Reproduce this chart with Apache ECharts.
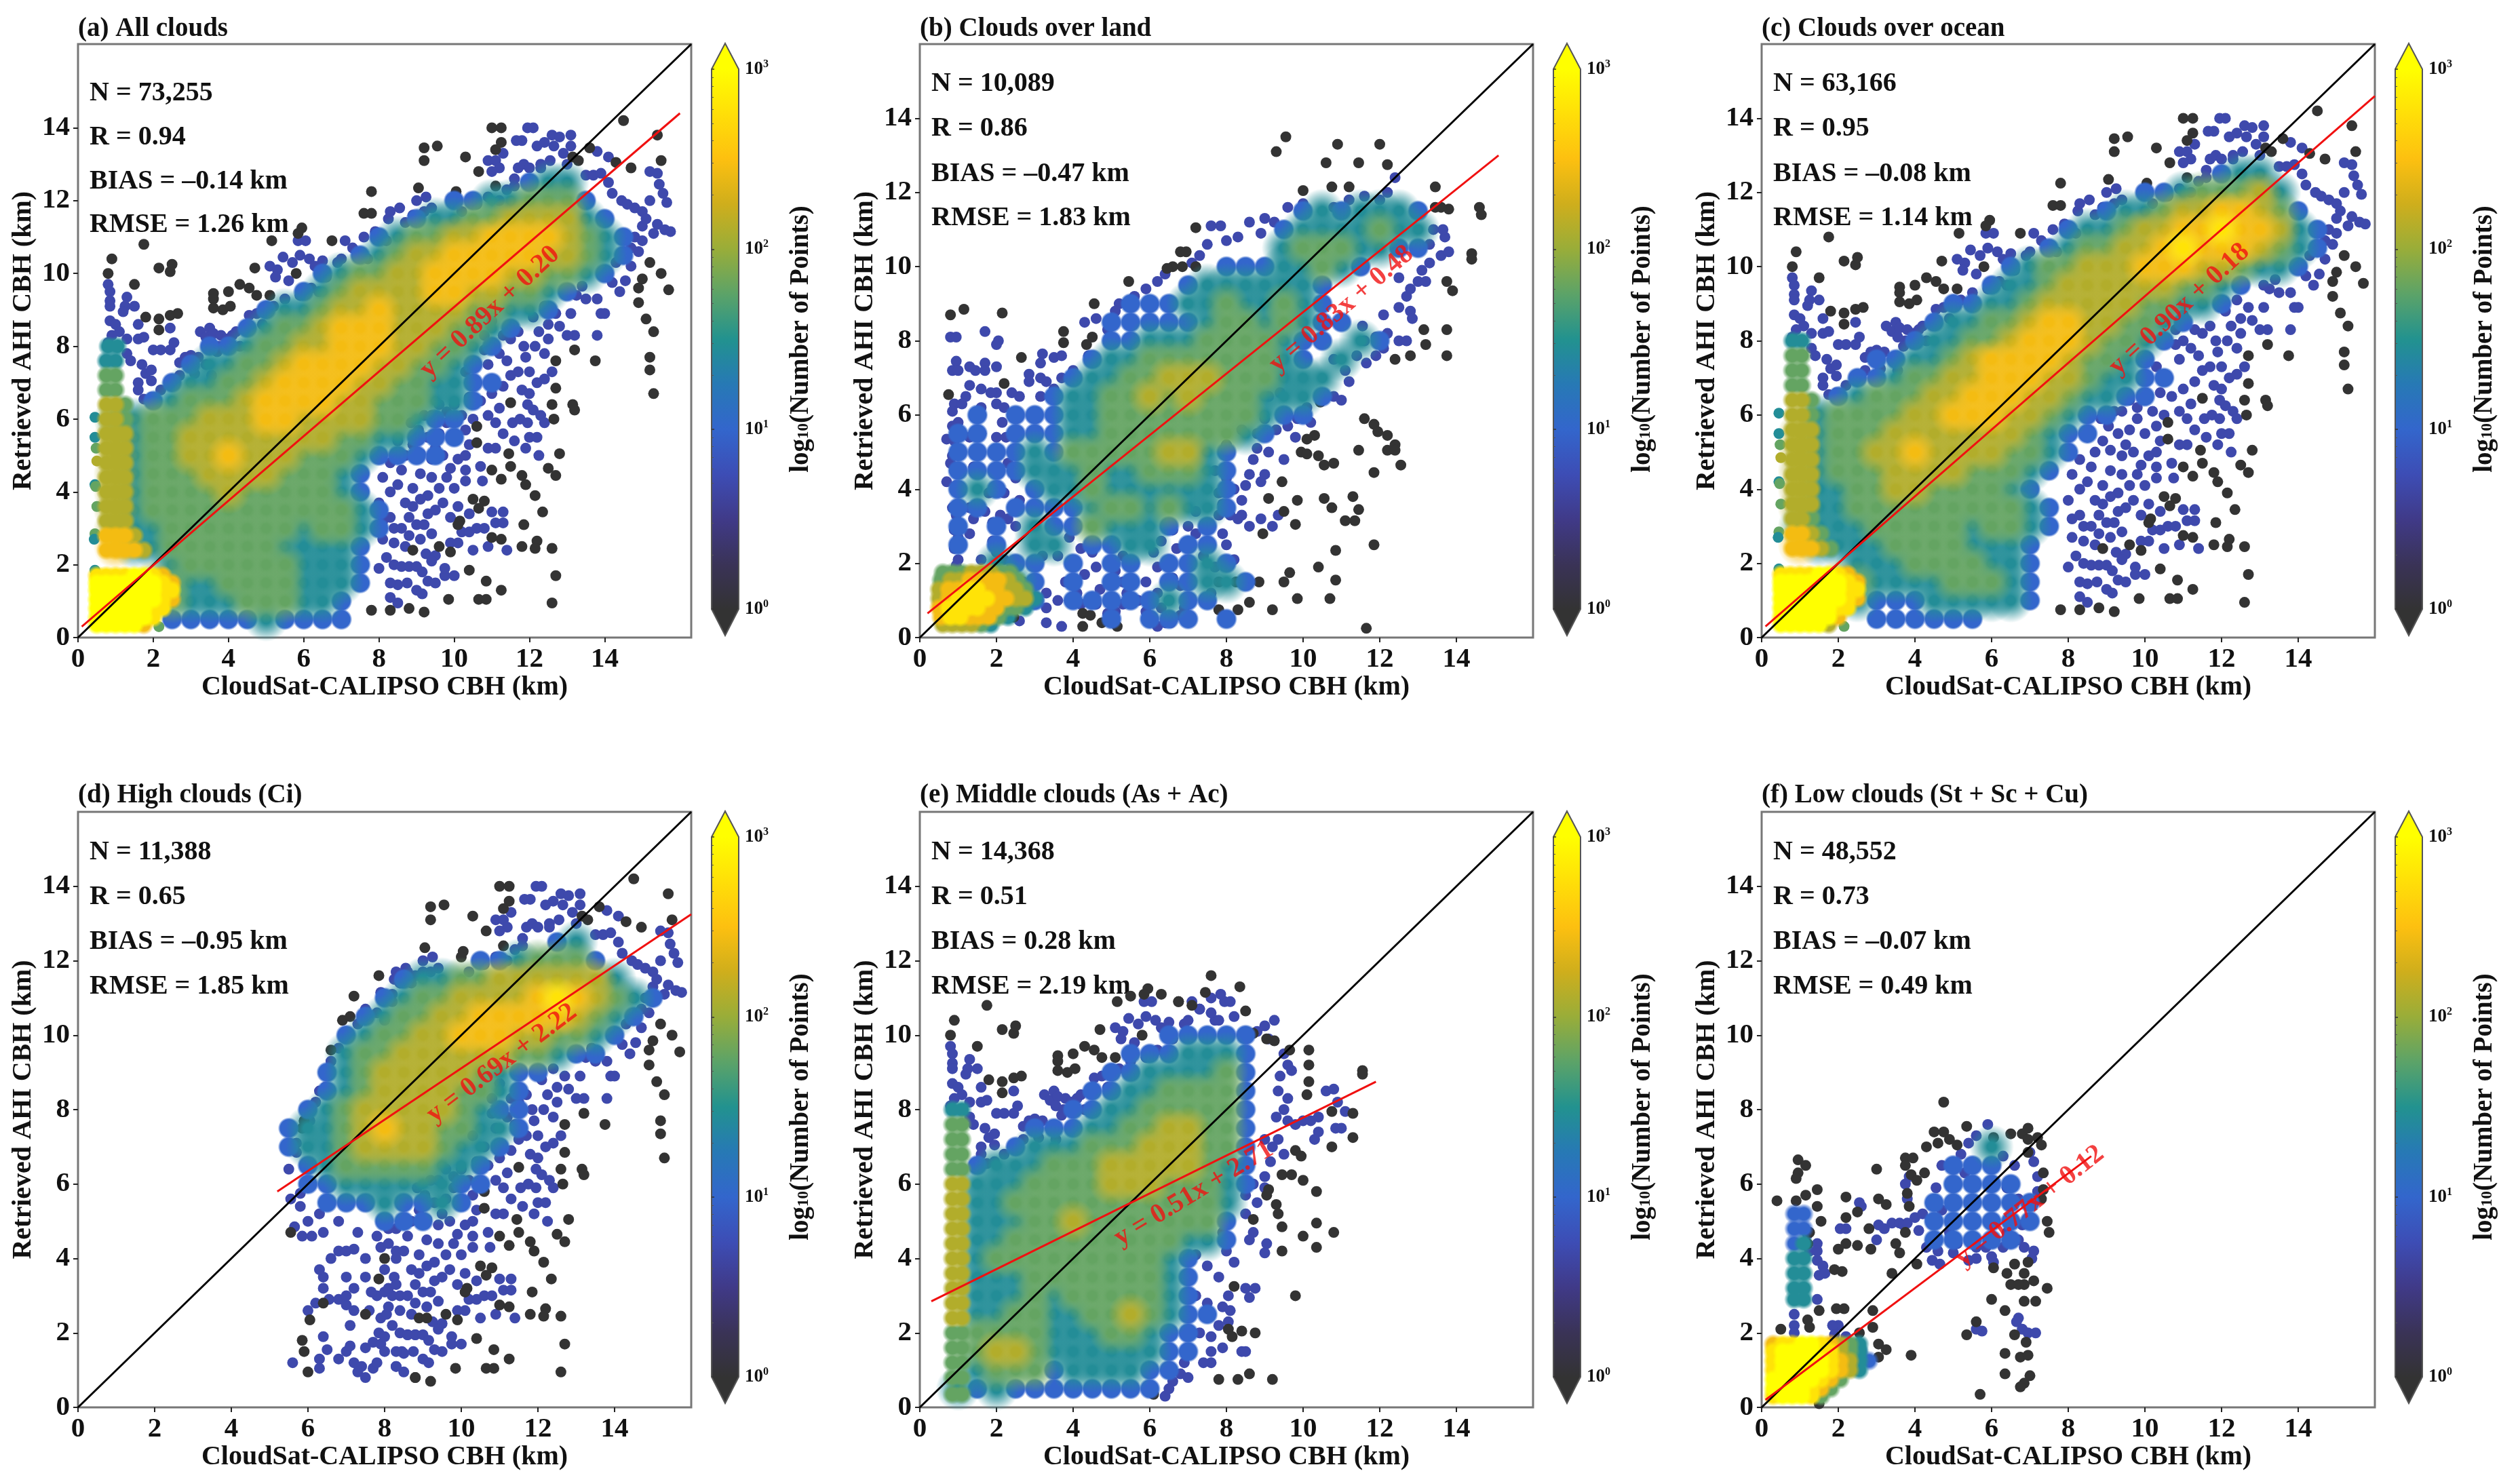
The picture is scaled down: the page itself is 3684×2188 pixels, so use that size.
<!DOCTYPE html>
<html><head><meta charset="utf-8">
<style>html,body{margin:0;padding:0;background:#fff}#c{width:3684px;height:2188px}</style>
<script src="https://cdn.jsdelivr.net/npm/echarts@6/dist/echarts.min.js"></script>
</head><body><div id="c"></div>
<script>
// ---------- tick labels ----------
const axisTicks=[0,2,4,6,8,10,12,14];
// ---------- density clouds: [y, first x, digits]; step 0.5 km; digit = density class ----------
const aCloud=[[12.5,12,"344"],[12,10,"33445553"],[11.5,9,"34455666643"],[11,8,"34556677776543"],[10.5,7.5,"345667777766543"],[10,6.5,"3455667777665543"],[9.5,6,"345666677665543"],[9,5,"3445667666655443"],[8.5,4.5,"345567776665543"],[8,3.5,"3345566777665543"],[7.5,3,"3445567777665543"],[7,2.5,"344556777766554433"],[6.5,2,"345556777766555443"],[6,1,"5455566677666655433"],[5.5,1,"6455666666665544333"],[5,1,"645566766655543333"],[4.5,1,"64555666655543"],[4,1,"64555565555543"],[3.5,1,"645555555555543"],[3,1,"6445555555455 43"],[2.5,1,"74455555544443"],[2,2.5,"45555554443"],[1.5,2,"654455554443"],[1,2.5,"5444555443"],[.5,2.5,"3333343333"]];
const bCloud=[[11.5,10,"3434443"],[11,9.5,"34444544"],[10.5,9.5,"45554433"],[10,8,"33344543"],[9.5,7,"34444443"],[9,5.5,"33344544543"],[8.5,5,"3333345545433"],[8,5,"334445555433.43"],[7.5,4.5,"344555555543.4"],[7,4,"34455666555444"],[6.5,3.5,"344556565554443"],[6,1.5,"3.3334455555555433"],[5.5,1,"33.33344555555543"],[5,1,"333343555556643"],[4.5,1,"333344454455543"],[4,1,"343.34454444443"],[3.5,1,"33.333345545443"],[3,1,"3.3.43354443.3"],[2.5,1,"3.3.44.3344.33"],[2,2,"433.3.33.3343"],[1.5,2.5,"43.3.33.33443"],[1,3,"3.33333433"],[.5,5,"3.333.3"]];
const cCloud=[[12.5,12,"344"],[12,10,"33455564"],[11.5,9,"34456677653"],[11,8,"34456677877643"],[10.5,7.5,"345566787776543"],[10,6.5,"3455666777665443"],[9.5,6,"34456666665543"],[9,5,"334456666655443"],[8.5,4.5,"34455677665543"],[8,4,"34455677765543"],[7.5,3,"334456777765543"],[7,2.5,"33455667776654433"],[6.5,2,"34555667776654433"],[6,1.5,"4555566777665433"],[5.5,1,"6455566666665433"],[5,1,"645566766665543"],[4.5,1,"64555666655543"],[4,1,"6445566555543"],[3.5,1,"64455555555543"],[3,1,"54445555545543"],[2.5,1,"7444455554443"],[2,2.5,"4445555443"],[1.5,2,"6544445554 3"],[1,2.5,"4333444443"],[.5,3,"333333"]];
const dCloud=[[12.5,12.5,"34"],[12,10.5,"3345553"],[11.5,8.5,"344556666664"],[11,8,"345566667876543"],[10.5,7.5,"345566777776543"],[10,7,"345566777665543"],[9.5,7,"45566666655433"],[9,6.5,"345666665433"],[8.5,6.5,"34566665543"],[8,6,"345666665433"],[7.5,5.5,"3445676655443"],[7,5.5,"344566665443"],[6.5,6,"3455555443"],[6,6,"3344444433"],[5.5,6.5,"33343343"],[5,8,"333"]];
const eCloud=[[10,6.5,"33333"],[9.5,5.5,"3334443"],[9,5,"33444453"],[8.5,4.5,"334455553"],[8,4,"3344555553"],[7.5,3,"333445566553"],[7,2.5,"3444555666553"],[6.5,1.5,"344455566666543"],[6,1.5,"444555566655543"],[5.5,1.5,"44555555555554"],[5,1.5,"44455655555553"],[4.5,1.5,"44555555555443"],[4,1.5,"455555555543"],[3.5,1.5,"444555555543"],[3,1.5,"444545555543"],[2.5,1.5,"4455445565433"],[2,1.5,"555544455433"],[1.5,1.5,"566544444433"],[1,1.5,"45553444433"],[.5,1,"43433333333"]];
const fCloud=[[7,6,"4"],[6.5,5,"333"],[6,5,"3333"],[5.5,4.5,"333333"],[5,4.5,"333333"],[4.5,4.5,"33333"],[1.5,2,"33"]];
// ---------- fine cells: [y, first x, digits]; step 0.25 km ----------
const aFine=[[8,.8,"44"],[7.6,.75,"44"],[7.2,.75,"55"],[6.8,.75,"55"],[6.4,.75,"665"],[6,.75,"665"],[5.6,.75,"666"],[5.2,.75,"666"],[4.8,.75,"666"],[4.4,.75,"666"],[4,.75,"666"],[3.6,.75,"666"],[3.2,.75,"666"],[2.8,.75,"7776"],[2.4,.75,"77776"],[1.7,.5,"88889987"],[1.5,.5,"999999987"],[1.3,.5,"999999988"],[1.05,.5,"999999987"],[.8,.5,"99999988"],[.55,.5,"9999998"],[.35,.5,"999997"]];
const bFine=[[1.75,.6,"55566655"],[1.55,.55,"566777765"],[1.3,.5,"6778877665"],[1.05,.5,"67888877664"],[.8,.5,"7888877554"],[.55,.55,"78877754"],[.35,.6,"666654"]];
const cFine=[[8,.8,"44"],[7.6,.8,"55"],[7.2,.8,"55"],[6.8,.8,"55"],[6.4,.8,"665"],[6,.8,"665"],[5.6,.8,"666"],[5.2,.8,"666"],[4.8,.8,"666"],[4.4,.8,"666"],[4,.8,"666"],[3.6,.8,"666"],[3.2,.8,"665"],[2.8,.8,"7765"],[2.4,.8,"77765"],[1.7,.5,"88889987"],[1.5,.5,"999999987"],[1.3,.5,"999999988"],[1.05,.5,"999999987"],[.8,.5,"99999988"],[.55,.5,"9999997"],[.35,.5,"999996"]];
const eFine=[[8,.85,"44"],[7.6,.85,"55"],[7.2,.85,"55"],[6.8,.85,"55"],[6.4,.85,"55"],[6,.85,"66"],[5.6,.85,"66"],[5.2,.85,"66"],[4.8,.85,"66"],[4.4,.85,"66"],[4,.85,"66"],[3.6,.85,"66"],[3.2,.85,"66"],[2.8,.85,"66"],[2.4,.85,"66"],[2,.85,"55"],[1.6,.85,"55"],[1.2,.85,"55"],[.8,.85,"55"],[.35,.85,"55"]];
const fFine=[[5.2,.85,"33"],[4.8,.85,"33"],[4.4,.85,"34"],[4,.85,"44"],[3.6,.85,"44"],[3.2,.85,"44"],[2.9,.85,"44"],[1.7,.3,"7889987654"],[1.5,.3,"8999988654"],[1.25,.3,"89999987643"],[1,.3,"8999998764"],[.75,.3,"99999875"],[.5,.3,"9999875"],[.3,.3,"899985"]];
// ---------- individual dots ----------
const rightDark=[[14.5,14.2],[15.4,13.8],[15.5,13.1],[14.3,13.05],[14.7,12.9],[15.2,10.3],[15.5,10],[15,9.85],[14.9,9.6],[15.7,9.55],[14.9,9.2],[15.1,8.75],[15.3,8.4],[15.2,7.7],[15.2,7.35],[15.3,6.7],[13.75,7.6],[13.2,7.9],[13.15,6.4],[13.2,6.25],[12.7,7.6],[12.7,6.85],[12.6,6.4],[12.65,6],[12.8,5.05],[12.5,4.65],[12.7,4.45],[11.8,4.45],[11.9,4.2],[11,4.6],[11.25,4.35],[11.45,5.05],[11.5,4.7],[11.5,6.45],[10.6,5.8],[10.6,5.35],[10.5,3.8],[10.8,3.75],[10.65,3.55],[12.15,3.9],[12.35,3.45],[11.85,3.1],[12.2,2.65],[12.15,2.45],[11.8,2.5],[12.6,2.45],[12.7,1.7],[12.6,.95],[11.25,1.3],[10.85,1.55],[10.65,1.05],[10.85,1.05],[10.4,1.85],[9.85,1.05],[9.2,.7],[8.8,.8],[8.9,2.4],[9.9,2.35],[10.15,3.2],[10.1,3.1],[11.25,2.7],[11,2.75],[9.6,2.5],[10.3,13.2],[9.2,13.1],[9.2,13.45],[9.55,13.5],[11,14],[11.25,14],[11.25,13.6],[11.1,13.4],[10.65,12.8],[11.1,12.4],[9.05,12.35],[10.05,12.25],[10,12.1],[13.15,13.2],[13.3,13.1],[13.6,13.45]];
const leftDark=[[.9,10.4],[1.75,10.8],[2.15,10.15],[2.45,10.05],[2.5,10.25],[.8,10],[4.7,10.15],[5.15,10.9],[5.95,11.25],[5.85,11.1],[4.3,9.7],[4.55,9.6],[4.75,9.4],[5.1,9.4],[5.8,10],[4,9.5],[3.6,9.45],[3.6,9.3],[3.85,9],[4.05,9.1],[3.6,9.05],[6.75,10.9],[1.5,9.7],[2.65,8.9],[2.45,8.85],[2.15,8.75],[2.15,8.45],[1.8,8.8]];
const midDark=[[7.6,11.65],[7.8,11.65],[7.8,12.25],[8.3,.75],[7.8,.75]];
const leftDots=[[.8,9.7],[.85,9.5],[.85,9.25],[.85,9.1],[.85,8.7],[1,8.6],[1.1,8.4],[.8,8.1],[.9,8.3],[1.3,9.35],[1.25,9.1],[1.2,8.95],[1.5,9.1],[1.3,8.2],[1.3,7.8],[1.6,8.2],[1.75,8.25],[1.4,7.6],[1.7,7.5],[1.8,7.25],[1.95,7.05],[2,7.9],[2.2,7.9],[2.45,7.9],[2.55,8.1],[2.45,8.5],[1.6,8.6],[1.95,7.35],[1.6,7],[1.6,6.8],[1.75,6.55],[1.95,6.6],[2.2,6.8],[2.5,6.9],[2.7,7.2],[2.7,7.55],[2.85,7.7],[3,7.75],[3.2,7.7],[3.4,7.5],[3.55,7.2],[3.1,7.25],[3.25,8.4],[3.4,8.25],[3.5,8.5],[3.6,8.35],[3.55,8.1],[3.75,8],[3.8,8.3],[3.95,8.2],[4.1,8.3],[4.2,8.4],[3.7,7.85],[4.3,8],[4.55,8.85],[4.75,8.9],[4.9,8.6],[5,9.1],[5.2,9.1],[5.1,10.2],[5.3,10.1],[5.45,10.45],[5.6,9.8],[5.25,9.9],[5.7,10.3],[5.9,10.5],[5.85,10.9],[6.05,10.9],[6.15,10.4],[6.3,10.2],[6.5,10.35],[6.6,9.9],[6.9,10.3],[7,10.4],[5.9,9.4],[6.2,9.6],[6.4,9.5],[5.5,9.3],[7.1,10.9],[7.3,10.7],[7.6,11],[7.7,10.4]];
const topDots=[[7.9,11.15],[8.2,10.9],[8.25,11.5],[8.3,11.7],[8.55,11.8],[8.7,11.4],[8.9,11.6],[9,12],[9.2,11.7],[9.4,11.8],[9.25,12.1],[10.2,11.7],[10.6,11.9],[10.9,12.1],[11.2,12],[11.4,12.3],[11.6,12.4],[10.9,13.1],[11.1,13.1],[11.3,13.3],[11.2,12.9],[11,12.8],[11.6,12.6],[11.7,12.9],[11.85,13],[12,12.9],[12.3,13],[11.8,13.65],[11.65,13.65],[11.95,14],[12.1,14],[12.2,13.5],[12.4,13.6],[12.6,13.8],[12.8,13.75],[13.1,13.8],[13.1,13.5],[12.55,13.1],[12.9,13.3],[12.65,13.5],[12.3,12.9],[13,13],[13.8,13.35],[13.5,12.7],[13.7,12.7],[13.9,12.75],[14.1,13.2],[14.1,12.5]];
const rightDots=[[14.2,12.2],[14.45,12],[14.6,11.9],[14.8,11.8],[15,11.7],[15.2,12],[15.45,12.45],[15.55,12.2],[15.65,11.95],[15.4,12.75],[15.2,12.8],[15,11.3],[15.3,11.1],[15.1,11.5],[15.4,11.35],[15.6,11.2],[15.75,11.15],[14.8,11],[15,10.9],[14.7,10.7],[14.9,10.6],[14.5,10.4],[14.3,10.3],[14.7,10.2],[14.5,11],[14.2,9.75],[14.4,9.5],[14.55,9.8],[13.8,9.3],[13.5,9.3],[13.25,9.4],[13.9,8.9],[14,8.9],[13.8,8.3],[13.2,8.3],[13,8.3],[12.7,8.9],[12.8,8.55],[13.1,8.9],[12.5,8.6],[12.4,9.1],[13.1,9.5],[13.4,9.65]];
const lowDots=[[8.4,2],[8.6,1.95],[8.8,1.95],[9,1.95],[9.15,1.8],[9.3,1.55],[9,1.3],[9.15,1.2],[8.5,1.45],[8.3,1.5],[8.75,1.5],[8.5,.95],[8.3,1.1],[9.5,1.5],[9.75,1.7],[9.75,1.9],[10,1.7],[9.25,2.3],[9.5,2.25],[8.7,2.5],[8.8,2.8],[8.4,3],[8.6,3],[8.1,3.2],[8.3,3.3],[8.8,3.3],[9,3.1],[9.2,3.1],[9.4,2.85],[9.3,3.4],[9.5,3.5],[9.7,3.7],[9.3,3.9],[9.1,3.8],[8.9,4.1],[8.5,4.2],[8.3,4],[8.1,4.4],[8,3.7],[9.9,2.6],[10.2,2.9],[10.4,2.9],[10.6,3],[10.8,3],[10.5,2.4],[10.9,2.5],[11.1,3.15],[11.3,3.15],[11.3,3.45],[11,3.45],[11.4,2.4],[10.75,4.3],[10.3,4.3],[10,4.1],[9.8,4.4],[9.9,4.65],[10.1,4.9],[9.7,5],[9.4,4.9],[9.1,5.05],[8.9,5.3],[9.3,5.5],[9.5,5.2],[10,5.5],[10.3,5],[10.4,5.3],[10.7,4.7],[9.2,6.1],[10.5,6],[10.9,6.1],[11.1,5.9],[11.3,5.6],[11.55,5.9],[11.75,6],[11.95,5.9],[12,5.5],[12.1,6.25],[11.9,5.2],[12.2,5.5],[12.25,5],[11.95,6.4],[12,7.3],[11.7,7.3],[11.4,7.6],[11.5,7.2],[12.2,7],[10.8,7.9],[10.9,7.5],[11,8],[11.2,7.8],[11.3,8.3],[11.5,8.2],[11.7,8.4],[11.85,8],[11.9,7.7],[12.15,8],[12.25,8.4],[12.4,7.8],[12.1,8.8],[10.6,7],[10.3,7.3],[10.4,6.6],[10.7,6.5],[11,6.7],[9.8,6.2],[10,6.4]];
const lowDots2=[[8.7,3.7],[8.9,3.6],[8.1,2.7],[8.4,2.6],[8.2,2.2],[8,1.9],[8.6,4.6],[8.3,4.8],[8.7,5],[8.5,5.4],[9.1,4.5],[9.4,4.4],[9.6,4.1],[10.1,3.6],[9.9,3.3],[10.4,3.4],[10.1,2.6],[9.1,2.7],[9.4,2.1],[10.3,4.6],[10.9,5.2],[11.1,5.2],[11.6,5.4],[11.2,6.3],[11.3,6.9],[11.8,6.8],[12,6.7],[12.3,6.1],[12.4,5.9],[9.6,5.6],[9.8,5.9],[10.3,5.7],[10.2,6.1],[9.05,5.7],[8.85,5.9],[9.4,6.1],[9.6,6.4],[10.8,8.3],[11,8.7],[12.4,7.1],[12.6,7.3],[12.5,8.2]];
const bDark=[[9.55,13.5],[9.3,13.1],[10.9,13.3],[12,13.3],[10.6,12.8],[11.45,12.8],[12.2,12.75],[10.75,12.15],[10,12.05],[11.2,12.15],[13.45,12.15],[14.6,11.6],[14.65,11.4],[13.45,11.6],[13.8,11.55],[13.6,11.6],[14.4,10.35],[14.4,10.2],[13.9,9.35],[13.75,9.6],[13.15,8.3],[13.75,8.3],[13.2,7.9],[13.75,7.6],[12.8,7.6],[12.4,7.5],[7.2,11.05],[6.8,10.4],[6.95,10.4],[6.6,10],[6.85,10],[7.2,10],[6.45,9.95],[5.45,9.6],[4.55,9],[4.5,8.1],[3.75,8.25],[3.75,7.95],[4.35,7.9],[.8,8.7],[1.15,8.85],[2.15,8.75],[2.65,7.55],[2.2,6.85],[.75,6.55],[10.45,6.35],[11.6,5.9],[11.85,5.75],[11.95,5.55],[12.2,5.45],[12.4,5.2],[12.2,5.05],[12.4,5.05],[12.55,4.65],[11.45,5.05],[11.85,4.45],[10.3,5.45],[10.1,5.35],[9.95,5],[10.1,4.95],[10.4,4.9],[10.55,4.65],[10.8,4.7],[9.45,4.2],[9.1,3.75],[9.85,3.7],[10.55,3.75],[10.75,3.5],[11.3,3.8],[11.45,3.45],[11.35,3.15],[11.1,3.15],[9.5,3.4],[9.8,3.05],[8.95,2.8],[10.85,2.35],[11.85,2.5],[10.4,1.9],[10.85,1.55],[9.65,1.75],[9.5,1.5],[8.85,1.5],[8.25,1.5],[7.8,1.5],[10.7,1.05],[9.85,1.05],[8.6,.95],[8.3,.75],[7.8,.75],[9.2,.75],[11.65,.25],[2.45,.55],[4.25,.3],[4.25,.65],[4.45,.6],[5.15,.3],[4.75,.4]];
const bDots=[[.8,8.1],[.95,8.1],[1.7,8.25],[2.05,8],[2,7.9],[.95,7.45],[1.3,7.3],[1.45,7.2],[.85,7.2],[1,7.2],[1.7,7.4],[2,7.3],[1.7,7.2],[3.2,7.65],[3.15,7.4],[3.5,7.55],[3.7,7.6],[2.85,7.1],[2.85,6.9],[3.15,7],[3.3,6.9],[3.15,6.5],[2.6,6.5],[2.4,6.6],[2,6.6],[1.85,6.6],[1.6,6.7],[1.3,6.8],[1.2,6.5],[.9,6.3],[.85,6.1],[1.1,6.3],[1.6,6.2],[1.6,6],[2,6.3],[2.2,6.2],[2.4,6],[2.15,5.8],[2.5,5.9],[1,5.8],[.85,5.7],[.7,5.35],[.9,5.3],[1.1,5.5],[1.3,5.4],[1.6,5.5],[2,5.4],[2.25,5.4],[.85,4.9],[.8,4.7],[.9,4.5],[.7,4.2],[.95,4.1],[1,3.9],[.85,3.5],[.95,3.3],[1,3.1],[.9,2.9],[1,2.7],[1.3,3.5],[1.4,3.2],[1.3,2.8],[1.7,3.4],[1.9,3.1],[2.1,3.3],[2.3,3.2],[2.5,3],[1.9,2.6],[2,2.3],[2.2,2.1],[.9,2.4],[1,2.1],[.95,1.95],[1.6,2.1],[2.4,1.7],[2.7,1.5],[3,1.4],[3.3,1.2],[3,.9],[3.3,.8],[2.7,.8],[2.6,.45],[3.3,.4],[3.7,.3],[3.6,1],[3.9,1],[4.2,.9],[3.8,1.5],[4,1.9],[4.3,1.7],[4.6,1.9],[4.7,1.3],[5.1,1.8],[5.3,1.5],[5.4,1.2],[5,1],[5.1,.7],[4.9,.65],[5.7,1],[5.9,.7],[6,.5],[6.2,.3],[6.4,.4],[6.55,.4],[6.8,.6],[6.9,.8],[7,1],[6.5,1],[6.2,1.2],[5.9,1.5],[6.2,1.9],[6.5,2.1],[6.7,2.4],[6.3,2.6],[7,3],[7.2,2.8],[7.5,2.5],[7.9,2.8],[8,2.5],[8.2,2.1],[7.9,2],[7.8,3.3],[8.1,3.3],[8.3,3.2],[7.9,3.6],[8.2,4],[8,4.3],[7.7,4.5],[8.6,4.4],[8.7,4.8],[8.8,5.1],[9.1,5],[9.5,4.8],[8.9,4.2],[9,4.4],[8.9,3.2],[8.6,3],[9.2,3],[9.35,3.3],[8.4,3.3],[8,5.2],[8.4,5.6],[8.8,5.5],[9,5.9],[9.3,5.6],[9.6,5.7],[9.8,5.4],[9.6,6],[9.85,5.9],[9.1,6.5],[9.4,6.6],[10.1,6.2],[10.2,5.8],[10.5,6.5],[10.8,6.5],[11,6.4],[11.2,6.9],[11.1,7.2],[10.8,7.5],[11.4,7.6],[11.65,7.4],[11.9,7.6],[11.6,8],[11.9,8.1],[12.1,7.8],[12.2,8.2],[12.5,8],[12.7,8],[11.55,8.4],[12.1,8.7],[12.5,8.9],[12.8,8.8],[12.85,8.6],[12.7,9.2],[12.5,9.7],[12.8,9.4],[13,9.6],[13.2,9.6],[13.1,9.9],[13.3,10.1],[13.6,10.3],[13.8,10.4],[13.7,10.8],[13.65,11],[13.3,10.6],[13.4,11],[12.4,12.4],[12.2,12],[12,11.8],[11.6,11.9],[11.2,11.8],[10.8,11.6],[10,11.7],[9.6,11.6],[9.25,11.2],[9,11.3],[8.9,10.9],[8.6,11.2],[8.3,10.8],[8,10.7],[7.85,11.1],[7.6,11.1],[7.5,10.6],[7.3,10.3],[7.1,10.1],[6.4,9.8],[6.2,9.6],[5.9,9.4],[5.6,9.2],[5.2,9],[5.1,8.8],[4.6,8.6],[4.9,8.3],[4.3,8.5],[4.4,7.6],[4,7.2],[3.7,7],[3.5,6.7],[1.4,4.6],[2.3,4.7],[2.5,4.3],[2.2,3.9],[2.6,3.7],[1.8,3.9],[3.2,2.2],[3.6,2.2],[4.2,2.4],[4.5,2.3],[3.9,2.7],[5.3,2.2],[4.1,1.2],[4.6,.9],[5.3,.9],[6.1,2.3],[6.6,2.9],[7.2,3.4],[7.5,3.1],[7.4,2.2],[7.8,3.9],[8.4,3.7],[8.5,4.1],[6.3,.8],[6.6,1.6],[7,2],[6.8,1.4],[7.6,1.2],[7.7,1.9]];
const dDark=[[5.55,4.7],[8,4],[7.5,2.5],[6.05,2.35],[6.4,2.8],[5.85,1.8],[5.9,1.5],[6,.95],[7.85,3.45],[8.8,.8],[9.1,2.4],[7.2,11.05],[6.9,10.4],[7.1,10.5],[6.6,9.6],[5.9,7.7],[5.85,7.5],[7.85,11.6]];
const dDots=[[5.6,1.2],[6.3,1.3],[6.3,1.05],[6.4,1.9],[6.5,1.55],[6.8,1.3],[7,1.5],[7.1,1.65],[7.2,1.2],[7.4,1.1],[7.3,.95],[7.5,.8],[7.7,1.05],[7.8,1.2],[7.5,1.6],[7.7,1.75],[7.9,1.7],[8,1.5],[7.85,2],[8.3,1.1],[8.45,1.5],[8.6,1.95],[8.8,1.95],[6,2.6],[6.2,2.8],[6.55,2.9],[6.8,2.9],[7,2.75],[7.2,2.6],[7.6,2.6],[7.9,2.4],[8.05,2.5],[7.1,2.2],[6.4,3.2],[6.4,3.5],[6.3,3.7],[6.6,4],[6.1,4.6],[6.4,4.7],[6.8,4.2],[7,4.2],[7.2,4.25],[7,3.5],[7.2,3.2],[7,3],[7.5,3.5],[7.8,3],[8,3.1],[8.2,3],[8.25,3.5],[7.65,3.1],[7.5,4],[7.9,4.3],[8.1,4.8],[8.3,4.2],[7.8,4.6],[6,5],[5.8,5.4],[5.65,4.85],[5.85,4.6],[6.3,5.2],[6.8,5],[7.3,4.7],[5.55,5.6],[5.8,5.75],[5.7,6.85],[5.5,6.4],[5.7,7.1],[6.05,7.7],[6.2,8.2],[6.3,8.5],[6.45,8.6],[6.6,9.3],[6.55,9],[6.8,9.65],[7.3,10.3],[7.5,10.7],[7.8,10.6],[8,10.4],[8.2,11.1],[8.4,11.4],[8.6,11.7],[8.8,11.6],[9,11.7]];
const eDark=[[7.6,11.6],[8.35,11.3],[7.45,11.15],[6.3,11.1],[5.5,11.05],[6.75,10.9],[7.1,10.8],[8.5,10.65],[8.7,10.05],[9.05,9.9],[9.25,9.85],[9.65,9.6],[10.15,9.6],[10.15,9.2],[10.15,8.75],[11.55,9.05],[11.55,8.95],[10.1,8.4],[10.75,7.95],[11.3,7.9],[11.3,7.25],[10.75,7],[9.8,6.9],[9.95,6.75],[9.45,6.25],[9.7,6.25],[10,6.1],[10.35,5.8],[9.1,5.85],[9.05,5.7],[9.3,5.45],[9.35,5.2],[8.7,5.05],[9.45,4.85],[10.35,4.95],[10,4.6],[10.8,4.7],[10.35,4.3],[9.45,4.2],[9.8,3],[8.2,3.25],[8.75,2],[8.4,2.05],[8.05,2.1],[8.15,1.9],[7.8,.75],[8.3,.75],[8.6,.9],[9.2,.75],[6.1,.35]];
const eDots=[[9.5,9.5],[9.6,9.2],[9.7,9.05],[9.4,8.9],[9.35,8.5],[9.6,8.3],[9.5,8],[9.3,7.8],[9.6,7.7],[9.8,7.6],[10,7.7],[10.2,7.7],[10.4,7.8],[10.6,8.5],[10.8,8.55],[10.9,8.2],[11.1,7.95],[11,7.5],[10.85,7.5],[10.4,7.4],[10.3,7.2],[9.35,7.2],[9,7.2],[9.2,7],[9.5,6.8],[9.15,6.6],[9,6.2],[8.7,6],[8.5,5.7],[8.8,5.5],[9,5.9],[8.5,5.2],[8.7,4.7],[8.6,4.5],[9.05,4.4],[9,4.15],[8.5,3.2],[8.75,3.2],[8.6,2.95],[8.05,3],[7.9,2.7],[8.1,2.6],[8.05,2.3],[8.4,1.5],[8.5,1.5],[7.9,1.6],[7.6,1.2],[7.4,1.2],[7.6,1.5],[7.8,10.4],[7.95,10.9],[8.1,10.9],[7.85,11.1],[7.6,10.6],[7.3,10.7],[8.2,10.5],[8.8,10.1],[9,10.25],[9.25,10.4],[9.1,9.9],[7.2,4.1],[7.5,3.8],[7.8,3.5],[8,4.2],[7.5,4.5],[8.2,3.9],[7.9,4.7],[7.2,3],[7.5,2.8],[7.8,2.2],[7.3,2],[7.6,1.9],[6.9,1.2],[6.6,.7],[6.8,.9],[7,.8],[6.4,.3],[6.5,.5]];
const fDark=[[4.75,8.2],[.95,6.65],[1.15,6.5],[.95,6.3],[.9,6.15],[.4,5.55],[.9,5.55],[1.15,5.7],[1.45,5.85],[1.45,5.4],[1.55,5],[2.2,5.65],[2.2,5.1],[1.25,4.7],[1.2,4.4],[2.2,4.4],[2,4.25],[2.5,4.35],[2.85,4.25],[2.8,4.8],[3,6.4],[3.05,5.6],[3.25,5.45],[2.5,5.25],[3.75,6.7],[3.95,6.7],[4.3,7],[3.75,6.5],[3.9,6.25],[4.05,6.1],[4.25,6.3],[4.5,7.4],[4.75,7.4],[4.6,7.1],[4.9,7.2],[5.1,7.05],[5.35,7.55],[6.05,7.25],[6.5,7.35],[6.8,7.35],[6.95,7.5],[7.2,7.25],[6.95,7.2],[7.3,7.05],[6.95,6.85],[7.35,6.3],[7.35,5.85],[7.3,5.6],[7.45,5],[7.5,4.7],[7,5.05],[6.95,3.9],[6.6,3.85],[6.4,3.6],[6.05,3.75],[6.85,3.6],[6.85,3.3],[7.1,3.4],[6.5,3.3],[6.7,3.3],[7.45,3.2],[6,2.9],[6.85,2.85],[7.15,2.85],[6.35,2.6],[5.6,2.3],[5.35,1.95],[6.6,1.95],[6.9,1.75],[6.35,1.45],[6.75,1.35],[6.95,1.4],[6.35,.9],[7,.85],[6.85,.65],[6.75,.55],[5.7,.35],[1.5,.1],[3.9,1.4],[3.05,1.7],[3.25,1.55],[3.05,1.35],[2.9,2.15],[2.9,2.6],[2.55,2],[3.4,3.6],[1.5,2.6],[1.95,2.65],[2.15,2.65],[1.2,2.35],[1.25,2.15],[.5,2.1],[1.9,3.7],[2.1,3.65],[3.6,4.15],[4.05,3.85],[3.5,4.4],[3.75,4.7],[3.85,5.4],[3.8,5.75]];
const fDots=[[1.2,4.65],[1.25,4.2],[1.45,4.4],[1.45,4.2],[1.45,3.95],[1.6,3.8],[1.5,3.55],[1.65,3.6],[1.45,2.9],[.85,2.5],[.85,2.2],[.85,2],[2.2,4.8],[2.05,4.8],[2.55,5.5],[2.6,5.4],[3,4.5],[3.05,4.9],[3.2,4.8],[3.4,4.95],[3.6,4.95],[3.7,4.9],[3.85,6.2],[3.75,6],[3.8,5.6],[4,5.1],[4.2,5.2],[4.4,5.05],[3.8,4.95],[4.1,4.75],[4.4,4.5],[4.3,4.3],[4.6,4.2],[4.45,3.95],[4.65,3.85],[5,4.15],[5.4,3.95],[5.6,4],[5.6,4.3],[5.85,4.3],[6,4.05],[6.05,3.9],[6.3,4.3],[6.5,4.4],[6.7,4.5],[6.85,4.3],[7.1,4.2],[7.05,4],[6.8,4.9],[7.2,5.8],[7.2,6.2],[7.1,6.6],[7,6.85],[6.6,6.5],[6.3,6.75],[5.9,7.6],[5.6,7.3],[5.4,7.1],[5.2,6.8],[4.7,6.5],[4.55,5.9],[6.7,2.4],[6.65,2.3],[6.8,2.1],[6.95,2],[7.15,2],[5.75,2.05],[5.6,2.1],[2,2.2],[1.85,2.2],[1.9,1.95],[2.2,1.9],[4.7,5.3],[5,5.9],[5,6.4],[5.3,6.3],[6.4,5.9],[6.7,5.6],[6.6,5],[6.4,4.7],[5.1,4.4],[4.9,4.7]];
const aLevelDots=[[.45,6.05,4],[.45,5.5,4],[.48,5.2,5],[.5,4.85,6],[.45,4.2,4],[.47,4.15,5],[.5,3.6,5],[.45,2.85,5],[.43,2.7,4],[.45,1.85,4],[2.15,.3,5]];
// ---------- fitted lines and labels ----------
const fitA=[[.1,.3],[16,14.4]],fitB=[[.2,.65],[15.1,13]],fitC=[[.1,.3],[16,14.6]],fitD=[[5.2,5.8],[16,13.25]],fitE=[[.3,2.85],[11.9,8.75]],fitF=[[.1,.2],[8.6,6.75]];
const titles=["(a) All clouds","(b) Clouds over land","(c) Clouds over ocean","(d) High clouds (Ci)","(e) Middle clouds (As + Ac)","(f) Low clouds (St + Sc + Cu)"];
const statsA=["N = 73,255","R = 0.94","BIAS = –0.14 km","RMSE = 1.26 km"],statsB=["N = 10,089","R = 0.86","BIAS = –0.47 km","RMSE = 1.83 km"],statsC=["N = 63,166","R = 0.95","BIAS = –0.08 km","RMSE = 1.14 km"],statsD=["N = 11,388","R = 0.65","BIAS = –0.95 km","RMSE = 1.85 km"],statsE=["N = 14,368","R = 0.51","BIAS = 0.28 km","RMSE = 2.19 km"],statsF=["N = 48,552","R = 0.73","BIAS = –0.07 km","RMSE = 0.49 km"];
const eqs=["y = 0.89x + 0.20","y = 0.83x + 0.48","y = 0.90x + 0.18","y = 0.69x + 2.22","y = 0.51x + 2.71","y = 0.77x + 0.12"];
const eqPos=[[10.95,8.94],[11,8.85],[10.9,8.85],[11.06,9.24],[7.15,5.74],[7,5.4]];
const eqAngle=[43,40.5,42.7,37,31,38];
const rampStops=[[0,'#333333'],[.25,'#3a3357'],[.5,'#403a88'],[.75,'#3d4db5'],[1,'#3366cc'],[1.25,'#2779b5'],[1.5,'#22928f'],[1.75,'#5ca368'],[2,'#99ad39'],[2.25,'#cfae1c'],[2.5,'#fdc010'],[2.75,'#ffdf08'],[3,'#ffff00']];

const hex=h=>[1,3,5].map(i=>parseInt(h.substr(i,2),16));
function ramp(l){for(let i=1;i<rampStops.length;i++){if(l<=rampStops[i][0]){const[a,ca]=rampStops[i-1],[b,cb]=rampStops[i];const t=(l-a)/(b-a),A=hex(ca),B=hex(cb);return A.map((v,k)=>Math.round(v+(B[k]-v)*t));}}return[255,255,0];}
const lev=d=>Math.min(3,d>=4?(d+.35)/3:d/3);
const rgb=(c,a=1)=>`rgba(${c[0]},${c[1]},${c[2]},${a})`;
function cells(rows,step){const out={};rows.forEach(([y,x0,s])=>[...s.replace(/ /g,"")].forEach((ch,i)=>{if(ch==='.')return;(out[ch]=out[ch]||[]).push([x0+i*step,y]);}));return out;}
const soft=(col,o)=>({type:'radial',x:.5,y:.5,r:.5,colorStops:[{offset:0,color:rgb(col)},{offset:o,color:rgb(col)},{offset:1,color:rgb(col,0)}]});

const F='"Liberation Serif"';
const X=[115,1356,2597],Y=[65,1197],W=904,H=[875,878];
const panels=[
 {cloud:aCloud,fine:aFine,dark:[rightDark,leftDark,midDark],dots:[leftDots,topDots,rightDots,lowDots,lowDots2],fit:fitA,stats:statsA,max:16.3,st:[138,203,268,332],lvl:aLevelDots},
 {cloud:bCloud,fine:bFine,dark:[bDark],dots:[bDots],fit:fitB,stats:statsB,max:16,st:[124,190,257,322]},
 {cloud:cCloud,fine:cFine,dark:[rightDark,leftDark,midDark],dots:[leftDots,topDots,rightDots,lowDots,lowDots2],fit:fitC,stats:statsC,max:16,st:[124,190,257,322],lvl:aLevelDots},
 {cloud:dCloud,fine:[],dark:[rightDark,dDark],dots:[dDots,topDots,rightDots,lowDots,lowDots2],fit:fitD,stats:statsD,max:16,st:[1257,1323,1389,1455]},
 {cloud:eCloud,fine:eFine,dark:[leftDark,eDark],dots:[leftDots,eDots],fit:fitE,stats:statsE,max:16,st:[1257,1323,1389,1455]},
 {cloud:fCloud,fine:fFine,dark:[fDark],dots:[fDots],fit:fitF,stats:statsF,max:16,st:[1257,1323,1389,1455]}
];
const grid=[],xAxis=[],yAxis=[],series=[],graphic=[];
const axisFont={fontFamily:F,fontWeight:'bold',fontSize:41,color:'#111'};
panels.forEach((p,i)=>{
 const col=i%3,row=i<3?0:1,left=X[col],top=Y[row],h=H[row];
 grid.push({left,top,width:W,height:h,show:true,borderColor:'#777',borderWidth:3,backgroundColor:'transparent'});
 const nm={nameLocation:'middle',nameTextStyle:{fontFamily:F,fontWeight:'bold',fontSize:40,color:'#111'}};
 const tick={length:7,lineStyle:{color:'#222',width:2},customValues:axisTicks};
 xAxis.push({gridIndex:2*i,type:'value',min:0,max:p.max,name:'CloudSat-CALIPSO CBH (km)',...nm,nameGap:48,splitLine:{show:false},axisLine:{show:false},axisTick:tick,axisLabel:{...axisFont,margin:12,customValues:axisTicks}});
 yAxis.push({gridIndex:2*i,type:'value',min:0,max:p.max,name:'Retrieved AHI CBH (km)',...nm,nameGap:60,splitLine:{show:false},axisLine:{show:false},axisTick:tick,axisLabel:{...axisFont,margin:12,customValues:axisTicks}});
 const cbL=left+934,cbT=top+37,cbH=796;
 grid.push({left:cbL,top:cbT,width:40,height:cbH,show:false});
 xAxis.push({gridIndex:2*i+1,type:'value',min:0,max:1,show:false});
 yAxis.push({gridIndex:2*i+1,type:'log',logBase:10,min:1,max:1000,position:'right',name:'{n|log}{s|10}{n|(Number of Points)}',nameLocation:'middle',nameGap:72,nameRotate:90,
  nameTextStyle:{rich:{n:{fontFamily:F,fontWeight:'bold',fontSize:39,color:'#111'},s:{fontFamily:F,fontWeight:'bold',fontSize:23,color:'#111',padding:[10,0,0,0]}}},
  splitLine:{show:false},axisLine:{show:false},axisTick:{length:4,lineStyle:{color:'#333',width:1.5}},minorTick:{show:true,splitNumber:9,length:3,lineStyle:{color:'#555',width:1}},minorSplitLine:{show:false},
  axisLabel:{margin:9,formatter:v=>`{b|10}{u|${Math.round(Math.log10(v))}}`,rich:{b:{fontFamily:F,fontWeight:'bold',fontSize:27,color:'#111'},u:{fontFamily:F,fontWeight:'bold',fontSize:16,color:'#111',padding:[0,0,14,0]}}}});
 const tipT=cbT-38,tipB=cbT+cbH+39,L=cbL,R=cbL+40,M=cbL+20,tot=tipB-tipT;
 const gstops=[{offset:0,color:'#ffff00'}].concat(rampStops.slice().reverse().map(([l,c])=>({offset:(cbT+cbH*(1-l/3)-tipT)/tot,color:c}))).concat([{offset:1,color:'#333333'}]);
 graphic.push({type:'polygon',z:-1,shape:{points:[[M,tipT],[R,cbT],[R,cbT+cbH],[M,tipB],[L,cbT+cbH],[L,cbT]]},style:{fill:{type:'linear',x:0,y:0,x2:0,y2:1,colorStops:gstops},stroke:'#555',lineWidth:2}});
 graphic.push({type:'text',x:left,y:row?1173:43,style:{text:titles[i],fontFamily:F,fontWeight:'bold',fontSize:39,fill:'#111',textVerticalAlign:'middle'}});
 p.stats.forEach((t,k)=>graphic.push({type:'text',x:left+17,y:p.st[k],style:{text:t,fontFamily:F,fontWeight:'bold',fontSize:40,fill:'#111',textVerticalAlign:'middle'}}));
 const ax={xAxisIndex:2*i,yAxisIndex:2*i,silent:true,animation:false};
 const dot=(data,l,size)=>({type:'scatter',...ax,symbolSize:size||16,data,progressive:0,large:false,itemStyle:{color:rgb(ramp(l)),opacity:1}});
 series.push(dot([].concat(...p.dots),.7));
 series.push(dot([].concat(...p.dark),0));
 const c=cells(p.cloud,.5);
 Object.keys(c).sort().forEach(k=>{
  const cc=ramp(lev(+k)),solid=+k<=3;
  series.push({type:'scatter',...ax,symbolSize:solid?32:66,data:c[k],progressive:0,itemStyle:{opacity:1,color:soft(cc,solid?.8:.2)}});
 });
 const fn=cells(p.fine,.25);
 if(p.lvl) p.lvl.forEach(q=>series.push(dot([[q[0],q[1]]],lev(q[2]))));
 Object.keys(fn).sort().forEach(k=>series.push({type:'scatter',...ax,symbolSize:30,data:fn[k],progressive:0,itemStyle:{opacity:1,color:soft(ramp(lev(+k)),.6)}}));
 const line=(data,color,w)=>({type:'line',...ax,data,symbol:'none',lineStyle:{color,width:w},z:5});
 series.push(line([[0,0],[p.max,p.max]],'#000',3));
 series.push(line(p.fit,'#f01010',3));
 series.push({type:'scatter',...ax,symbolSize:1,itemStyle:{color:'transparent'},z:6,data:[eqPos[i]],label:{show:true,position:'inside',rotate:eqAngle[i],formatter:eqs[i],fontFamily:F,fontWeight:'bold',fontSize:40,color:'#f01010'}});
});
const chart=echarts.init(document.getElementById('c'),null,{renderer:'canvas',width:3684,height:2188,devicePixelRatio:1});
chart.setOption({animation:false,backgroundColor:'#fff',grid,xAxis,yAxis,series,graphic});
</script></body></html>
